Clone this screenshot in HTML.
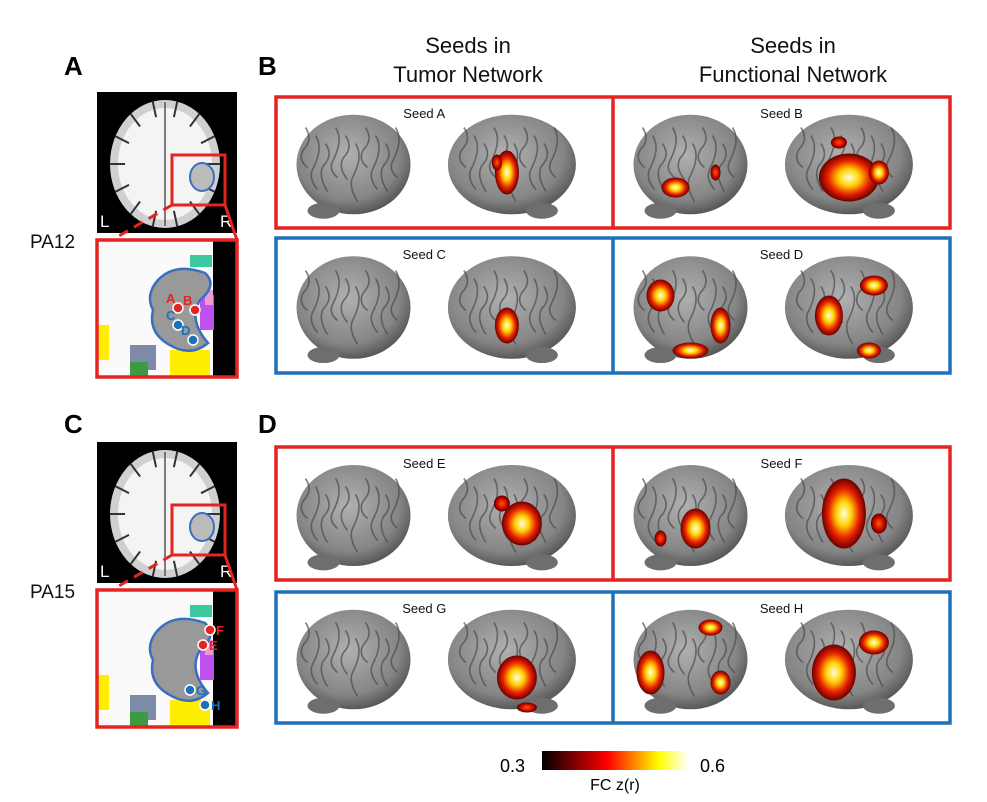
<!DOCTYPE html>
<html><head><meta charset="utf-8"><style>
body{margin:0;background:#fff;width:987px;height:802px;overflow:hidden;font-family:"Liberation Sans",sans-serif}
svg{position:absolute;left:0;top:0}
</style></head><body>
<svg id="s" width="987" height="802" xmlns="http://www.w3.org/2000/svg">
<defs>
<radialGradient id="bg" cx="45%" cy="40%" r="65%"><stop offset="0" stop-color="#b0b0b0"/><stop offset="0.7" stop-color="#858585"/><stop offset="1" stop-color="#4a4a4a"/></radialGradient>
<radialGradient id="hot" cx="50%" cy="50%" r="50%"><stop offset="0" stop-color="#ffffe0"/><stop offset="0.35" stop-color="#ffd200"/><stop offset="0.7" stop-color="#e82000"/><stop offset="1" stop-color="#6a0000"/></radialGradient>
<radialGradient id="warm" cx="50%" cy="50%" r="50%"><stop offset="0" stop-color="#ff5a00"/><stop offset="0.7" stop-color="#c00000"/><stop offset="1" stop-color="#500000"/></radialGradient>
<linearGradient id="cb" x1="0" x2="1"><stop offset="0" stop-color="#000"/><stop offset="0.45" stop-color="#ff0000"/><stop offset="0.8" stop-color="#ffff00"/><stop offset="1" stop-color="#fff"/></linearGradient>
</defs>
<g font-size="26" font-weight="bold" fill="#000">
<text x="64" y="75">A</text>
<text x="258" y="75">B</text>
<text x="64" y="433">C</text>
<text x="258" y="433">D</text>
</g>
<g font-size="22" text-anchor="middle" fill="#111">
<text x="468" y="53">Seeds in</text>
<text x="468" y="82">Tumor Network</text>
<text x="793" y="53">Seeds in</text>
<text x="793" y="82">Functional Network</text>
</g>
<g font-size="19" fill="#111">
<text x="30" y="248">PA12</text>
<text x="30" y="598">PA15</text>
</g>
<g id="left"></g>
<g id="brains"></g>
<g id="boxes" fill="none" stroke-width="3.5"></g>
<g>
<rect x="542" y="751" width="146" height="19" fill="url(#cb)"/>
<text id="cbmin" x="500" y="772" font-size="18"></text>
<text id="cbmax" x="700" y="772" font-size="18"></text>
<text x="615" y="790" font-size="16" text-anchor="middle">FC z(r)</text>
</g>
</svg>
<script>
const cbTicks=["0.3","0.6"];
const seeds=["Seed A","Seed B","Seed C","Seed D","Seed E","Seed F","Seed G","Seed H"];
const rowsY=[97,238,447,592];
const rowsH=[131,135,133,131];
const rowColor=["#e52421","#1e70b8","#e52421","#1e70b8"];
const NS="http://www.w3.org/2000/svg";
function mk(tag,attrs,parent){const e=document.createElementNS(NS,tag);for(const k in attrs)e.setAttribute(k,attrs[k]);parent.appendChild(e);return e;}
document.getElementById('cbmin').textContent=cbTicks[0];
document.getElementById('cbmax').textContent=cbTicks[1];
const L=document.getElementById('left');
[[92,240],[442,590]].forEach((p,i)=>{
 const g=mk('g',{},L);
 
 
 mk('rect',{x:97,y:p[0],width:140,height:141,fill:'#000'},g);
 mk('ellipse',{cx:165,cy:p[0]+72,rx:55,ry:64,fill:'#d0d0d0'},g);
 mk('ellipse',{cx:165,cy:p[0]+72,rx:47,ry:56,fill:'#f4f4f4'},g);
 for(let j=0;j<14;j++){const a=j/14*Math.PI*2;mk('line',{x1:165+55*Math.cos(a),y1:p[0]+72+64*Math.sin(a),x2:165+40*Math.cos(a),y2:p[0]+72+48*Math.sin(a),stroke:'#333','stroke-width':2},g);}
 mk('line',{x1:165,y1:p[0]+10,x2:165,y2:p[0]+134,stroke:'#555','stroke-width':1.5},g);
 mk('rect',{x:172,y:p[0]+63,width:53,height:50,fill:'none',stroke:'#e52421','stroke-width':3},g);
 mk('ellipse',{cx:202,cy:p[0]+85,rx:12,ry:14,fill:'#bbb',stroke:'#3a6fc0','stroke-width':2},g);
 const tl=mk('text',{x:100,y:p[0]+135,'font-size':17,fill:'#fff'},g);tl.textContent='L';
 const tr=mk('text',{x:220,y:p[0]+135,'font-size':17,fill:'#fff'},g);tr.textContent='R';
 mk('line',{x1:172,y1:p[0]+113,x2:112,y2:p[1],stroke:'#e52421','stroke-width':3,'stroke-dasharray':'10,7'},g);
 mk('line',{x1:225,y1:p[0]+113,x2:237,y2:p[1],stroke:'#e52421','stroke-width':3},g);
 const z=mk('g',{},L);
 
 
 mk('rect',{x:97,y:p[1],width:140,height:137,fill:'#fafafa'},z);
 mk('rect',{x:213,y:p[1],width:24,height:137,fill:'#000'},z);
 mk('rect',{x:190,y:p[1]+15,width:22,height:12,fill:'#3cc9a0'},z);
 mk('rect',{x:200,y:p[1]+55,width:14,height:35,fill:'#c050f0'},z);
 mk('rect',{x:205,y:p[1]+50,width:8,height:15,fill:'#f09ad0'},z);
 mk('rect',{x:170,y:p[1]+110,width:40,height:27,fill:'#ffee00'},z);
 mk('rect',{x:130,y:p[1]+105,width:26,height:25,fill:'#7d8aa8'},z);
 mk('rect',{x:130,y:p[1]+122,width:18,height:15,fill:'#3c9a40'},z);
 mk('rect',{x:97,y:p[1]+85,width:12,height:35,fill:'#ffee00'},z);
 mk('path',{d:`M158 ${p[1]+40} Q175 ${p[1]+22} 205 ${p[1]+33} Q218 ${p[1]+45} 200 ${p[1]+60} Q188 ${p[1]+80} 208 ${p[1]+103} Q190 ${p[1]+118} 168 ${p[1]+104} Q148 ${p[1]+92} 153 ${p[1]+70} Q145 ${p[1]+55} 158 ${p[1]+40}Z`,fill:'#999',stroke:'#3a6fc0','stroke-width':2.5},z);
 const lab=i?[['F',210,40,'#e52421'],['E',203,55,'#e52421'],['G',190,100,'#1e70b8'],['H',205,115,'#1e70b8']]:[['A',178,68,'#e52421'],['B',195,70,'#e52421'],['C',178,85,'#1e70b8'],['D',193,100,'#1e70b8']];
 lab.forEach(l=>{mk('circle',{cx:l[1],cy:p[1]+l[2],r:5,fill:l[3],stroke:'#fff','stroke-width':1.5},z);
  const t=mk('text',{x:l[1]+(i?6:-12),y:p[1]+l[2]+(i?5:-5),'font-size':13,'font-weight':'bold',fill:l[3]},z);t.textContent=l[0];});
 mk('rect',{x:97,y:p[1],width:140,height:137,fill:'none',stroke:'#e52421','stroke-width':3.5},z);
});
const B=document.getElementById('brains');
const blobs=[
 [[1,-5,5,12,22,1],[1,-15,-5,5,8,0]],
 [[0,-15,20,14,10,1],[0,25,5,5,8,0],[1,0,10,30,24,1],[1,30,5,10,12,1],[1,-10,-25,8,6,0]],
 [[1,-5,15,12,18,1]],
 [[0,-30,-15,14,16,1],[0,30,15,10,18,1],[0,0,40,18,8,1],[1,-20,5,14,20,1],[1,25,-25,14,10,1],[1,20,40,12,8,1]],
 [[1,10,5,20,22,1],[1,-10,-15,8,8,0]],
 [[0,5,10,15,20,1],[0,-30,20,6,8,0],[1,-5,-5,22,35,1],[1,30,5,8,10,0]],
 [[1,5,15,20,22,1],[1,15,45,10,5,0]],
 [[0,-40,10,14,22,1],[0,20,-35,12,8,1],[0,30,20,10,12,1],[1,-15,10,22,28,1],[1,25,-20,15,12,1]]
];
for(let r=0;r<4;r++){
 for(let c=0;c<2;c++){
  const k=r*2+c;
  const x0=c?613:276,w=337;
  const y0=rowsY[r],h=rowsH[r];
  const cell=mk('g',{},B);
  
  
  const cy=y0+h/2+5;
  const cxs=[x0+w*0.23,x0+w*0.7];
  cxs.forEach((cx,bi)=>{
   const b=mk('g',{},cell);
   
   
   mk('ellipse',{cx:cx,cy:cy-3,rx:bi?64:57,ry:h*0.38,fill:'url(#bg)'},b);
   mk('ellipse',{cx:cx+(bi?30:-30),cy:cy+h*0.33,rx:16,ry:8,fill:'#6e6e6e'},b);
   for(let j=0;j<10;j++){mk('path',{d:`M${cx-48+j*10} ${cy-40+(j%3)*8} q8 12 -2 ${22+(j%2)*10} q-6 10 4 ${18+(j%3)*4}`,stroke:'#4a4a4a','stroke-width':1.6,fill:'none',opacity:0.7},b);}
  });
  blobs[k].forEach(bl=>{
   const e=mk('ellipse',{cx:cxs[bl[0]]+bl[1],cy:cy+bl[2],rx:bl[3],ry:bl[4],fill:bl[5]?'url(#hot)':'url(#warm)'},cell);
   
   
  });
  const t=mk('text',{x:x0+w*(c?0.5:0.44),y:y0+21,'font-size':13,'text-anchor':'middle',fill:'#111'},cell);
  t.textContent=seeds[k];
  
  
 }
 const bx=mk('rect',{x:276,y:rowsY[r],width:674,height:rowsH[r],stroke:rowColor[r]},document.getElementById('boxes'));
 
 
 mk('line',{x1:613,y1:rowsY[r],x2:613,y2:rowsY[r]+rowsH[r],stroke:rowColor[r]},document.getElementById('boxes'));
}
</script>
</body></html>
